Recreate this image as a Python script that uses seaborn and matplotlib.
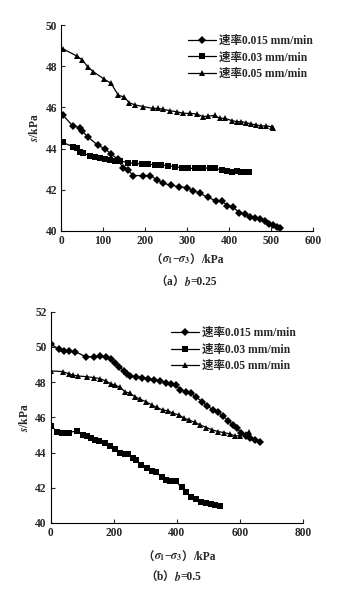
import numpy as np
import pandas as pd
import matplotlib
matplotlib.use("Agg")
import matplotlib.pyplot as plt
import seaborn as sns

# ---------------- data ----------------
series_names = ["速率0.015 mm/min", "速率0.03 mm/min", "速率0.05 mm/min"]

# panel (a) b=0.25
a_x_015 = [4, 28, 44, 49, 65, 87, 105, 119, 135, 148, 159, 172, 194, 212, 229, 243, 261, 280, 300,
           315, 330, 350, 369, 382, 396, 410, 424, 439, 449, 461, 473, 485, 495, 505, 515, 522]
a_y_015 = [45.63, 45.10, 45.02, 44.87, 44.55, 44.17, 43.98, 43.74, 43.48, 43.04, 42.96, 42.69, 42.69,
           42.69, 42.48, 42.31, 42.23, 42.15, 42.10, 41.96, 41.83, 41.63, 41.46, 41.46, 41.23, 41.15,
           40.89, 40.81, 40.70, 40.61, 40.57, 40.49, 40.34, 40.29, 40.21, 40.13]
a_x_03 = [4, 28, 37, 44, 53, 69, 81, 93, 105, 116, 128, 140, 160, 176, 192, 208, 223, 239, 255, 271,
          287, 303, 319, 330, 338, 354, 366, 382, 394, 406, 418, 429, 441, 447]
a_y_03 = [44.30, 44.09, 44.01, 43.85, 43.77, 43.66, 43.58, 43.53, 43.48, 43.45, 43.40, 43.40, 43.32,
          43.28, 43.25, 43.25, 43.20, 43.20, 43.16, 43.12, 43.07, 43.04, 43.04, 43.07, 43.07, 43.04,
          43.04, 42.96, 42.93, 42.88, 42.93, 42.88, 42.88, 42.85]
a_x_05 = [4, 37, 51, 63, 77, 102, 119, 136, 151, 162, 176, 196, 218, 231, 243, 259, 275, 291, 307,
          323, 338, 350, 366, 378, 390, 406, 418, 429, 441, 453, 465, 477, 489, 501, 505]
a_y_05 = [48.85, 48.50, 48.30, 47.98, 47.73, 47.38, 47.17, 46.60, 46.49, 46.23, 46.12, 46.04, 45.95,
          45.95, 45.91, 45.84, 45.79, 45.71, 45.71, 45.68, 45.55, 45.58, 45.61, 45.47, 45.47, 45.36,
          45.31, 45.31, 45.26, 45.19, 45.15, 45.10, 45.10, 45.06, 45.02]

# panel (b) b=0.5
b_x_015 = [0, 27, 43, 59, 77, 112, 137, 158, 175, 191, 204, 217, 232, 243, 251, 270, 291, 309, 327,
           348, 365, 383, 399, 410, 429, 446, 462, 480, 497, 515, 531, 547, 563, 578, 591, 605, 618,
           631, 647, 665]
b_y_015 = [50.17, 49.86, 49.79, 49.79, 49.73, 49.45, 49.45, 49.49, 49.41, 49.30, 49.07, 48.88, 48.64,
           48.47, 48.35, 48.31, 48.26, 48.20, 48.12, 48.07, 47.97, 47.88, 47.82, 47.56, 47.46, 47.37,
           47.14, 46.90, 46.65, 46.42, 46.29, 46.05, 45.82, 45.57, 45.38, 45.10, 44.95, 44.82, 44.70,
           44.62]
b_x_03 = [0, 21, 35, 49, 59, 82, 103, 114, 127, 140, 154, 172, 188, 204, 220, 236, 246, 260, 272, 285,
          304, 320, 334, 354, 367, 379, 397, 415, 428, 446, 462, 478, 492, 507, 520, 538]
b_y_03 = [45.52, 45.19, 45.14, 45.14, 45.14, 45.23, 45.01, 44.95, 44.82, 44.72, 44.63, 44.53, 44.38,
          44.19, 44.00, 43.93, 43.93, 43.68, 43.55, 43.30, 43.15, 42.98, 42.87, 42.59, 42.45, 42.40,
          42.36, 42.04, 41.74, 41.47, 41.38, 41.19, 41.13, 41.09, 41.00, 40.95]
b_x_05 = [0, 38, 59, 70, 88, 114, 137, 156, 175, 191, 204, 220, 235, 251, 267, 283, 302, 320, 336,
          355, 373, 388, 407, 423, 439, 457, 475, 494, 513, 531, 549, 568, 584, 599, 618, 629]
b_y_05 = [48.64, 48.60, 48.47, 48.41, 48.35, 48.31, 48.26, 48.20, 48.07, 47.90, 47.84, 47.71, 47.46,
          47.37, 47.18, 47.03, 46.90, 46.71, 46.57, 46.42, 46.37, 46.23, 46.14, 45.95, 45.86, 45.71,
          45.57, 45.42, 45.29, 45.19, 45.14, 45.06, 44.95, 44.95, 45.06, 45.19]

a_xticks = [0, 100, 200, 300, 400, 500, 600]
a_yticks = [40, 42, 44, 46, 48, 50]
b_xticks = [0, 200, 400, 600, 800]
b_yticks = [40, 42, 44, 46, 48, 50, 52]


def make_df(xs, ys):
    frames = []
    for name, x, y in zip(series_names, xs, ys):
        frames.append(pd.DataFrame({"x": x, "y": y, "series": name}))
    return pd.concat(frames, ignore_index=True)


df_a = make_df([a_x_015, a_x_03, a_x_05], [a_y_015, a_y_03, a_y_05])
df_b = make_df([b_x_015, b_x_03, b_x_05], [b_y_015, b_y_03, b_y_05])

# ---------------- style ----------------
sns.set_style("white")
SERIF = ['Liberation Serif', 'Noto Sans CJK SC', 'DejaVu Sans']
CJK = ['Noto Sans CJK SC', 'DejaVu Sans']
plt.rcParams['font.family'] = SERIF
plt.rcParams['mathtext.fontset'] = 'stix'
plt.rcParams['font.weight'] = 'bold'

fig = plt.figure(figsize=(3.53, 6.03), dpi=100)

markers = {series_names[0]: "D", series_names[1]: "s", series_names[2]: "^"}
palette = {n: "black" for n in series_names}
FS = 8.3


def draw(ax, df, xticks, yticks, xlim, ylim, leg_anchor):
    sns.lineplot(data=df, x="x", y="y", hue="series", style="series", markers=markers,
                 dashes=False, palette=palette, sort=False, ax=ax, linewidth=0.9,
                 markersize=4, markeredgewidth=0, legend=True)
    ax.set_xlim(*xlim)
    ax.set_ylim(*ylim)
    ax.set_xticks(xticks)
    ax.set_yticks(yticks)
    ax.tick_params(direction="in", length=3, width=0.8, labelsize=FS, pad=3,
                   left=True, bottom=True)
    for lbl in ax.get_xticklabels() + ax.get_yticklabels():
        lbl.set_fontweight("bold")
    for s in ["top", "right"]:
        ax.spines[s].set_visible(False)
    for s in ["left", "bottom"]:
        ax.spines[s].set_linewidth(0.8)
        ax.spines[s].set_color("black")
    ax.set_xlabel("")
    ax.set_ylabel(r"$s$/kPa", fontsize=FS, fontweight="bold", labelpad=3)
    leg = ax.legend(loc="upper left", bbox_to_anchor=leg_anchor, frameon=False,
                    fontsize=FS, handlelength=2.4, handletextpad=0.3,
                    labelspacing=0.4, borderaxespad=0)
    for t in leg.get_texts():
        t.set_fontweight("bold")
    for h in leg.legend_handles:
        h.set_markersize(4)


ax_a = fig.add_axes([0.173, 0.617, 0.714, 0.3415])
draw(ax_a, df_a, a_xticks, a_yticks, (0, 600), (40, 50), (0.485, 0.975))

ax_b = fig.add_axes([0.1436, 0.1327, 0.7144, 0.3503])
draw(ax_b, df_b, b_xticks, b_yticks, (0, 800), (40, 52), (0.46, 0.95))


def composite(xc_px, yc_px, parts):
    """Place several text pieces side by side, centred on (xc_px, yc_px) in pixels from top-left."""
    W, H = fig.get_size_inches() * fig.dpi
    texts = []
    for s, fam in parts:
        t = fig.text(0, 1 - yc_px / H, s, ha="left", va="center", fontsize=FS,
                     fontweight="bold", family=fam)
        texts.append(t)
    fig.canvas.draw()
    r = fig.canvas.get_renderer()
    widths = []
    for (s, _), t in zip(parts, texts):
        w = t.get_window_extent(r).width
        if s.startswith("$") and s.endswith("$") and s.count("$") == 2:
            w -= 1.5
        widths.append(w)
    x = xc_px - sum(widths) / 2
    for t, w in zip(texts, widths):
        t.set_x(x / W)
        x += w


xlabel_parts = [("（", CJK), (r"$\sigma_1$−$\sigma_3$", SERIF), ("）", CJK), ("/kPa", SERIF)]
composite(187, 260, xlabel_parts)
composite(186, 282, [("（", CJK), ("a", SERIF), ("）", CJK), (r"$b$", SERIF), ("=0.25", SERIF)])
composite(179, 557, xlabel_parts)
composite(173, 577, [("（", CJK), ("b", SERIF), ("）", CJK), (r"$b$", SERIF), ("=0.5", SERIF)])

fig.savefig("out.png", dpi=100)
